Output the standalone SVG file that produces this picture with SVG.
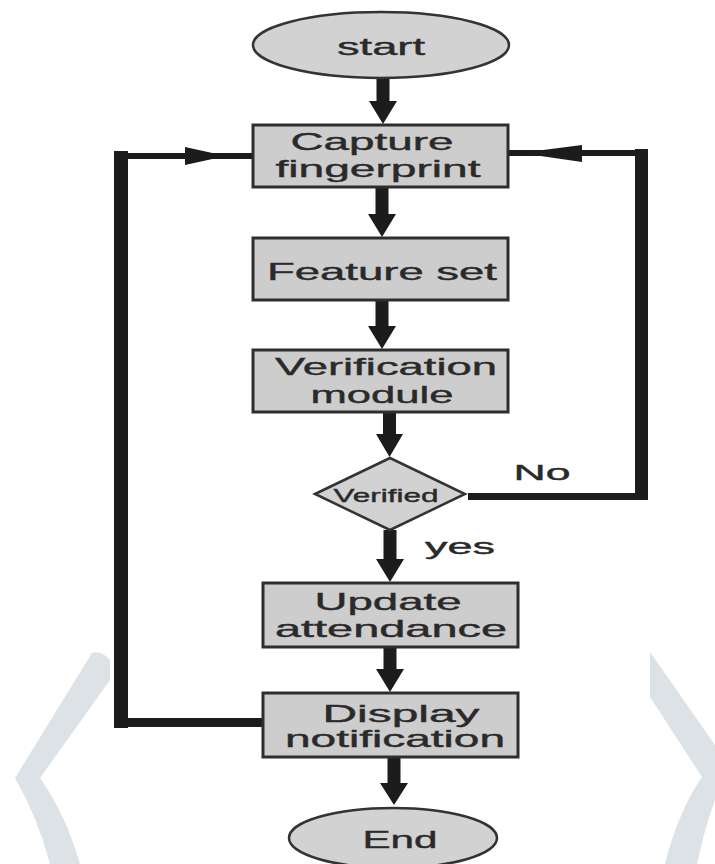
<svg xmlns="http://www.w3.org/2000/svg" width="715" height="864" viewBox="0 0 715 864">
<style>
.bg{fill:#dce2e6}
.box{fill:#cdcdcd;stroke:#2e2e2e;stroke-width:3}
.term{fill:#d2d2d2;stroke:#333;stroke-width:2.5}
.lbl{font-family:"Liberation Sans",Arial,sans-serif;font-size:24px;fill:#2a2a2a;stroke:#2a2a2a;stroke-width:0.4;text-anchor:middle}
.ink{fill:#1c1c1c}
</style>
<rect width="715" height="864" fill="#ffffff"/>
<g id="decor">
<path class="bg" d="M92,653 Q101,650 110,660 L110,680 L40,778 Q66,815 80,864 L50,864 Q38,818 15,778 Z"/>
<path class="bg" d="M650,652 L715,745 L715,800 Q704,830 697,864 L665,864 Q678,812 702,777 L650,697 Z"/>
</g>
<g id="connectors">
<rect class="ink" x="114" y="151" width="14" height="577"/>
<rect class="ink" x="114" y="153" width="139" height="6"/>
<polygon class="ink" points="185,147 226,156 185,165"/>
<rect class="ink" x="114" y="718" width="150" height="9"/>
<rect class="ink" x="468" y="493" width="180" height="7"/>
<rect class="ink" x="635" y="149" width="13" height="351"/>
<rect class="ink" x="508" y="150" width="140" height="6"/>
<polygon class="ink" points="520,153 582,145 582,162"/>
<polygon class="ink" points="376.5,78 389.5,78 389.5,101 397,101 383,124 369,101 376.5,101"/>
<polygon class="ink" points="375.5,187 388.5,187 388.5,214 396,214 382,237 368,214 375.5,214"/>
<polygon class="ink" points="375.5,300 388.5,300 388.5,326 396,326 382,349 368,326 375.5,326"/>
<polygon class="ink" points="383,412 396,412 396,434 403,434 389.5,457 376,434 383,434"/>
<polygon class="ink" points="383.5,530 396.5,530 396.5,559 404,559 390,582 376,559 383.5,559"/>
<polygon class="ink" points="383.5,647 396.5,647 396.5,669 404,669 390,692 376,669 383.5,669"/>
<polygon class="ink" points="387.5,757 400.5,757 400.5,783 408,783 394,805 380,783 387.5,783"/>
</g>
<g id="start">
<ellipse class="term" cx="381" cy="45" rx="128" ry="33"/>
<text class="lbl" x="381" y="55" textLength="88" lengthAdjust="spacingAndGlyphs">start</text>
</g>
<g id="capture">
<rect class="box" x="253" y="125" width="255" height="62"/>
<text class="lbl" x="372" y="150" textLength="163" lengthAdjust="spacingAndGlyphs">Capture</text>
<text class="lbl" x="378" y="177" textLength="205" lengthAdjust="spacingAndGlyphs">fingerprint</text>
</g>
<g id="feature">
<rect class="box" x="253" y="238" width="255" height="62"/>
<text class="lbl" x="382" y="280" textLength="230" lengthAdjust="spacingAndGlyphs">Feature set</text>
</g>
<g id="verification">
<rect class="box" x="253" y="350" width="255" height="62"/>
<text class="lbl" x="386" y="375" textLength="222" lengthAdjust="spacingAndGlyphs">Verification</text>
<text class="lbl" x="382" y="403" textLength="143" lengthAdjust="spacingAndGlyphs">module</text>
</g>
<g id="verified">
<polygon class="term" points="315,494 390,458 465,494 390,530"/>
<text class="lbl" x="386" y="502" style="font-size:19px" textLength="105" lengthAdjust="spacingAndGlyphs">Verified</text>
</g>
<g id="labels">
<text class="lbl" x="542" y="480" style="font-size:22px" textLength="57" lengthAdjust="spacingAndGlyphs">No</text>
<text class="lbl" x="460" y="554" style="font-size:22px" textLength="70" lengthAdjust="spacingAndGlyphs">yes</text>
</g>
<g id="update">
<rect class="box" x="263" y="583" width="255" height="64"/>
<text class="lbl" x="388" y="610" textLength="147" lengthAdjust="spacingAndGlyphs">Update</text>
<text class="lbl" x="391" y="637" textLength="232" lengthAdjust="spacingAndGlyphs">attendance</text>
</g>
<g id="display">
<rect class="box" x="263" y="693" width="255" height="64"/>
<text class="lbl" x="401" y="722" textLength="157" lengthAdjust="spacingAndGlyphs">Display</text>
<text class="lbl" x="395" y="747" textLength="220" lengthAdjust="spacingAndGlyphs">notification</text>
</g>
<g id="end">
<ellipse class="term" cx="393" cy="838" rx="104" ry="30"/>
<text class="lbl" x="400" y="848" textLength="75" lengthAdjust="spacingAndGlyphs">End</text>
</g>
</svg>
